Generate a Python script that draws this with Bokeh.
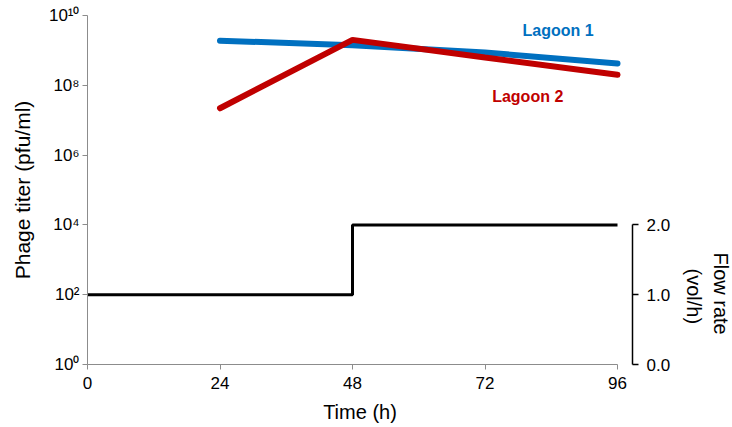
import math
from bokeh.plotting import figure
from bokeh.models import Range1d, LinearAxis, LinearScale, FixedTicker, CustomJSTickFormatter, Label, Title
from bokeh.embed import file_html
from bokeh.resources import INLINE

# data
time_h = [24, 48, 72, 96]
lagoon1 = [1.9e9, 1.4e9, 8.7e8, 4.2e8]
lagoon2 = [2.2e7, 2.0e9, 6.3e8, 2.0e8]
flow_t = [0, 48, 48, 96]
flow_rate = [1.0, 1.0, 2.0, 2.0]
x_ticks = [0, 24, 48, 72, 96]
y_ticks = [1, 1e2, 1e4, 1e6, 1e8, 1e10]
flow_ticks = [0, 1, 2]

FONT = "Liberation Sans"
x_end = 96 * 545 / 530

p = figure(width=732, height=427, output_backend="svg", toolbar_location=None,
           y_axis_type="log", x_range=Range1d(0, x_end), y_range=Range1d(1, 1e10),
           min_border_left=87, min_border_right=100, min_border_top=15, min_border_bottom=63)
p.outline_line_color = None
p.grid.visible = False
p.background_fill_color = "white"

p.extra_y_ranges = {"flow": Range1d(0, 5)}
p.extra_y_scales = {"flow": LinearScale()}

# lines
p.line(time_h, lagoon1, line_color="#0070C0", line_width=6, line_cap="round")
p.line(time_h, lagoon2, line_color="#C00000", line_width=6, line_cap="round")
p.line(flow_t, flow_rate, line_color="black", line_width=3, y_range_name="flow")

# x axis
xa = p.xaxis[0]
xa.ticker = FixedTicker(ticks=x_ticks)
xa.bounds = (0, 96)
xa.minor_tick_line_color = None
xa.axis_line_color = "#8c8c8c"
xa.major_tick_line_color = "#8c8c8c"
xa.major_tick_in = 0
xa.major_tick_out = 5
xa.major_label_standoff = 7
xa.major_label_text_font = FONT
xa.major_label_text_font_size = "17px"
xa.major_label_text_color = "black"
xa.axis_label = "Time (h)"
xa.axis_label_text_font = FONT
xa.axis_label_text_font_size = "20px"
xa.axis_label_text_font_style = "normal"
xa.axis_label_text_color = "black"
xa.axis_label_standoff = 9

# left axis
ya = p.yaxis[0]
ya.ticker = FixedTicker(ticks=y_ticks)
ya.formatter = CustomJSTickFormatter(code="""
const sup = {'0':'\u2070','1':'\u00b9','2':'\u00b2','3':'\u00b3','4':'\u2074','5':'\u2075','6':'\u2076','7':'\u2077','8':'\u2078','9':'\u2079'};
const e = String(Math.round(Math.log10(tick)));
return '10' + e.split('').map(c => sup[c]).join('');
""")
ya.minor_tick_line_color = None
ya.axis_line_color = "#8c8c8c"
ya.major_tick_line_color = "#8c8c8c"
ya.major_tick_in = 0
ya.major_tick_out = 5
ya.major_label_standoff = 3
ya.major_label_text_font = FONT
ya.major_label_text_font_size = "17px"
ya.major_label_text_color = "black"
ya.axis_label = "Phage titer (pfu/ml)"
ya.axis_label_text_font = FONT
ya.axis_label_text_font_size = "21px"
ya.axis_label_text_font_style = "normal"
ya.axis_label_text_color = "black"
ya.axis_label_standoff = 12

# right axis
ra = LinearAxis(y_range_name="flow", ticker=FixedTicker(ticks=flow_ticks), bounds=(0, 2))
ra.formatter = CustomJSTickFormatter(code="return tick.toFixed(1);")
ra.minor_tick_line_color = None
ra.axis_line_color = "black"
ra.axis_line_width = 1.5
ra.major_tick_line_color = "black"
ra.major_tick_line_width = 1.5
ra.major_tick_in = 0
ra.major_tick_out = 6
ra.major_label_standoff = 8
ra.major_label_text_font = FONT
ra.major_label_text_font_size = "17px"
ra.major_label_text_color = "black"
p.add_layout(ra, "right")

# right axis title (two lines, reading top to bottom)
t1 = Title(text="(vol/h)", align="left", offset=253, standoff=18, text_font=FONT,
           text_font_size="20px", text_font_style="normal", text_color="black")
t2 = Title(text="Flow rate", align="left", offset=237, standoff=-11, text_font=FONT,
           text_font_size="20px", text_font_style="normal", text_color="black")
p.add_layout(t1, "right")
p.add_layout(t2, "right")

# series labels
p.add_layout(Label(x=78.8, y=3.6e9, text="Lagoon 1", text_color="#0070C0", text_font=FONT,
                   text_font_size="16px", text_font_style="bold", text_baseline="middle"))
p.add_layout(Label(x=73.3, y=4.8e7, text="Lagoon 2", text_color="#C00000", text_font=FONT,
                   text_font_size="16px", text_font_style="bold", text_baseline="middle"))

open("out.html", "w").write(file_html(p, INLINE))
